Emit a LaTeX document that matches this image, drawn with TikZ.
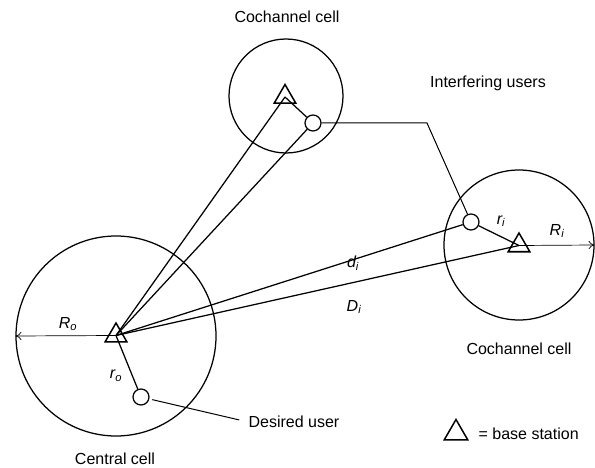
\documentclass[tikz,border=0pt]{standalone}
\usepackage{fontspec}
\setmainfont{Liberation Sans}
\usetikzlibrary{shapes.geometric,arrows.meta}
\begin{document}
\begin{tikzpicture}[x=1pt,y=-1pt,
  line width=1.25pt,
  cell/.style={circle,draw,line width=1.25pt,inner sep=0pt},
  bs/.style={regular polygon,regular polygon sides=3,draw,line width=1.5pt,inner sep=0pt,minimum size=25pt},
  user/.style={circle,draw,line width=1.25pt,inner sep=0pt,minimum size=16pt},
  lbl/.style={font=\fontsize{16}{19}\selectfont,inner sep=0pt},
  sym/.style={font=\fontsize{16}{19}\selectfont\itshape,inner sep=0pt},
  radiusline/.style={line width=0.7pt,-{To[length=6pt,width=8pt]}},
  thin link/.style={line width=1pt},
]
\useasboundingbox (0,0) rectangle (595,468);
% cells
\node[cell,minimum size=200pt] (c0) at (116,336) {};
\node[cell,minimum size=114pt] (c1) at (286,96) {};
\node[cell,minimum size=150pt] (c2) at (519,245) {};
% base stations
\node[bs] (b0) at (116,335.5) {};
\node[bs] (b1) at (285,97) {};
\node[bs] (b2) at (519,245.5) {};
% users
\node[user] (u0) at (141,397) {};
\node[user] (u1) at (313,123) {};
\node[user] (u2) at (471,222) {};
% links
\draw (b0.center) -- (b1.center);
\draw (b0.center) -- (u1);
\draw (b0.center) -- (u2);
\draw (b0.center) -- (b2.center);
\draw (b1.center) -- (u1);
\draw (u2) -- (b2.center);
\draw (b0.center) -- (u0);
% radii
\draw[radiusline] (b0.center) -- (c0.west);
\draw[radiusline] (b2.center) -- (c2.east);
% labels
\node[lbl] (t1) at (287,17) {Cochannel cell};
\node[lbl] (t2) at (519,349) {Cochannel cell};
\node[lbl] (t0) at (115,459) {Central cell};
\node[lbl] (ti) at (488,83) {Interfering users};
\node[lbl,anchor=west] (du) at (248,422) {Desired user};
\coordinate (bend) at (427,123);
\draw[thin link] (u1) -- (bend) -- (u2);
\draw[thin link,shorten <=3pt,shorten >=9pt] (u0) -- (du.west);
% symbols
\node[sym] (Ro) at (68,324) {R\textsubscript{o}};
\node[sym] (ro) at (116,376) {r\textsubscript{o}};
\node[sym] (di) at (353,263) {d\textsubscript{i}};
\node[sym] (Di) at (354,307) {D\textsubscript{i}};
\node[sym] (ri) at (501,221) {r\textsubscript{i}};
\node[sym] (Ri) at (557,231) {R\textsubscript{i}};
% legend
\node[bs,minimum size=27pt] (leg) at (456,433) {};
\node[lbl,anchor=west] (legt) at (478,434) {= base station};
\end{tikzpicture}
\end{document}
